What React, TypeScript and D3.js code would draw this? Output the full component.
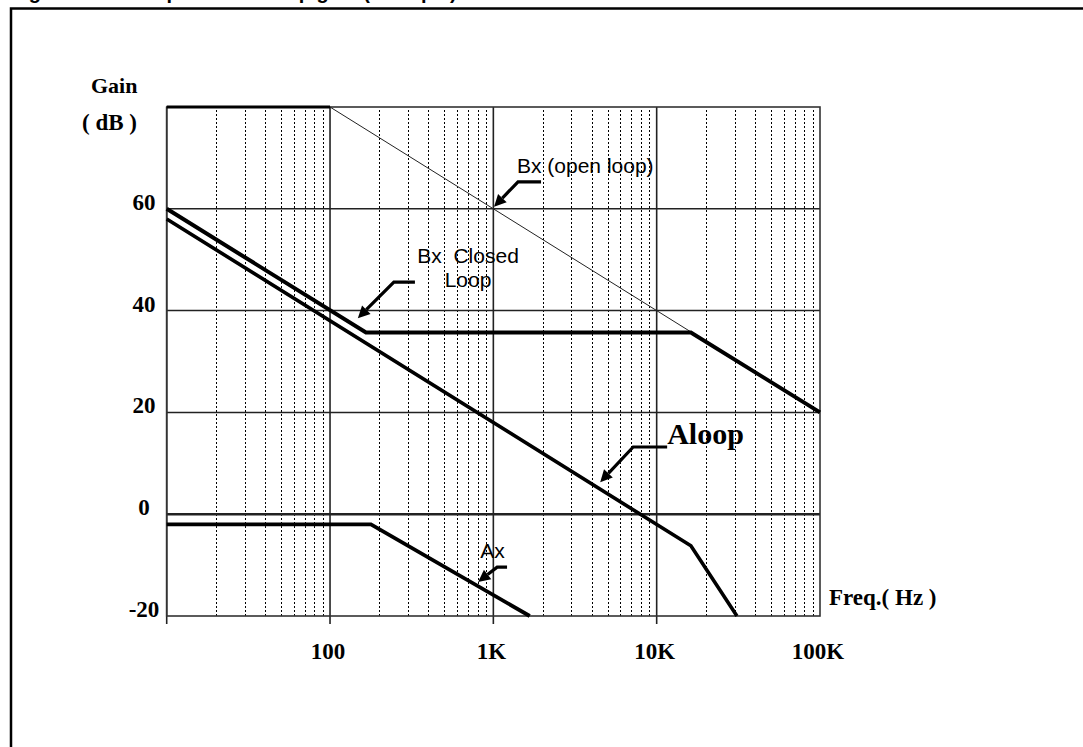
import React from 'react';
import * as d3 from 'd3';

const W = 1083;
const H = 747;

// ---- axis ticks ----
const xTickValues = [100, 1000, 10000, 100000];
const xTickLabels = ['100', '1K', '10K', '100K'];
const yTickValues = [60, 40, 20, 0, -20];
const yTickLabels = ['60', '40', '20', '0', '-20'];
const hGridValues = [60, 40, 20, 0];
const decades = [10, 100, 1000, 10000];
const minorMultipliers = [2, 3, 4, 5, 6, 7, 8, 9];

// ---- series (frequency in Hz, gain in dB) ----
const openLoopFlatFreq = [10, 100];
const openLoopFlatDb = [80, 80];
const openLoopSlopeFreq = [100, 100000];
const openLoopSlopeDb = [80, 20];
const bxClosedFreq = [10, 166, 16200, 100000];
const bxClosedDb = [60, 35.7, 35.7, 20];
const aloopFreq = [10, 16200, 31000];
const aloopDb = [58, -6.2, -20];
const axFreq = [10, 178, 1670];
const axDb = [-2, -2, -20];

// ---- annotations (anchored in data space) ----
const annotationText = [['Bx (open loop)'], ['Bx  Closed', 'Loop'], ['Aloop'], ['Ax']];
const annotationTextFreq = [1396, 700, 11590, 830];
const annotationTextDb = [67.0, 49.3, 13.8, -8.6];
const annotationArrowFreq = [
  [1959, 1416, 1010],
  [331, 246, 148],
  [11590, 7180, 4510],
  [1213, 1055, 807],
];
const annotationArrowDb = [
  [65.3, 65.3, 60.4],
  [45.6, 45.6, 38.5],
  [13.2, 13.2, 6.3],
  [-10.4, -10.4, -13.3],
];

const x = d3.scaleLog().domain([10, 100000]).range([166.7, 820]);
const y = d3.scaleLinear().domain([-20, 80]).range([616, 107]);

const line = d3
  .line<[number, number]>()
  .x((d) => x(d[0]))
  .y((d) => y(d[1]));

const zip = (f: number[], g: number[]) => f.map((v, i) => [v, g[i]] as [number, number]);
const snap = (v: number) => Math.round(v) + 0.5;

const SERIF = "'Liberation Serif', 'Times New Roman', serif";
const SANS = "'Liberation Sans', Arial, sans-serif";

function Arrow({ pts }: { pts: [number, number][] }) {
  const p = pts.map(([f, d]) => [x(f), y(d)]);
  const tip = p[p.length - 1];
  const prev = p[p.length - 2];
  const dx = tip[0] - prev[0];
  const dy = tip[1] - prev[1];
  const len = Math.hypot(dx, dy);
  const ux = dx / len;
  const uy = dy / len;
  const hl = 12;
  const hw = 6;
  const base = [tip[0] - ux * hl, tip[1] - uy * hl];
  const shaft = [...p.slice(0, -1), base];
  const head = [
    tip,
    [base[0] - uy * hw, base[1] + ux * hw],
    [base[0] + uy * hw, base[1] - ux * hw],
  ];
  return (
    <g>
      <path
        d={d3.line()(shaft as [number, number][]) || ''}
        fill="none"
        stroke="#000"
        strokeWidth={3.2}
        strokeLinejoin="miter"
      />
      <polygon points={head.map((q) => q.join(',')).join(' ')} fill="#000" />
    </g>
  );
}

export default function App() {
  const minorFreqs: number[] = [];
  decades.forEach((d) => minorMultipliers.forEach((m) => minorFreqs.push(d * m)));
  const [x0, x1] = x.range();
  const yTop = y(80);
  const yBot = y(-20);

  return (
    <svg
      width={W}
      height={H}
      viewBox={`0 0 ${W} ${H}`}
      style={{ position: 'absolute', left: 0, top: 0, background: '#fff' }}
    >
      <rect x={0} y={0} width={W} height={H} fill="#fff" />
      {/* page frame and clipped caption */}
      <text x={11} y={-1.5} fontFamily={SANS} fontWeight="bold" fontSize={20} fill="#000">
        Figure 13. Bode plot of the loop gain (example)
      </text>
      <rect x={11} y={8.5} width={W + 20} height={H + 20} fill="none" stroke="#000" strokeWidth={2.5} />

      {/* minor dotted verticals */}
      <g shapeRendering="crispEdges">
        {minorFreqs.map((f) => (
          <line
            key={'m' + f}
            x1={snap(x(f))}
            x2={snap(x(f))}
            y1={yTop + 3}
            y2={yBot}
            stroke="#000"
            strokeWidth={1.5}
            strokeDasharray="2 2"
          />
        ))}
      </g>

      {/* horizontal grid */}
      {hGridValues.map((v) => (
        <line
          key={'h' + v}
          x1={x0}
          x2={x1}
          y1={y(v)}
          y2={y(v)}
          stroke="#222"
          strokeWidth={v === 0 ? 2.6 : 1.5}
        />
      ))}

      {/* major verticals (with ticks below) */}
      {xTickValues.slice(0, 3).map((f) => (
        <line key={'v' + f} x1={x(f)} x2={x(f)} y1={yTop} y2={yBot + 8} stroke="#222" strokeWidth={1.6} />
      ))}
      <line x1={x0} x2={x0} y1={yTop} y2={yBot + 8} stroke="#222" strokeWidth={1.6} />

      {/* plot frame */}
      <rect x={x0} y={yTop} width={x1 - x0} height={yBot - yTop} fill="none" stroke="#333" strokeWidth={1.6} />

      {/* curves */}
      <path d={line(zip(openLoopSlopeFreq, openLoopSlopeDb)) || ''} fill="none" stroke="#222" strokeWidth={1} />
      <path d={line(zip(openLoopFlatFreq, openLoopFlatDb)) || ''} fill="none" stroke="#000" strokeWidth={3.2} />
      <path d={line(zip(bxClosedFreq, bxClosedDb)) || ''} fill="none" stroke="#000" strokeWidth={4} />
      <path d={line(zip(aloopFreq, aloopDb)) || ''} fill="none" stroke="#000" strokeWidth={3.6} />
      <path d={line(zip(axFreq, axDb)) || ''} fill="none" stroke="#000" strokeWidth={3.8} />

      {/* y tick labels */}
      {yTickValues.map((v, i) => (
        <text
          key={'yl' + v}
          x={144}
          y={y(v) + 1}
          textAnchor="middle"
          fontFamily={SERIF}
          fontWeight="bold"
          fontSize={23}
          fill="#000"
        >
          {yTickLabels[i]}
        </text>
      ))}

      {/* x tick labels */}
      {xTickValues.map((f, i) => (
        <text
          key={'xl' + f}
          x={x(f) - 2}
          y={659}
          textAnchor="middle"
          fontFamily={SERIF}
          fontWeight="bold"
          fontSize={23}
          fill="#000"
        >
          {xTickLabels[i]}
        </text>
      ))}

      {/* axis titles */}
      <text x={91} y={93} fontFamily={SERIF} fontWeight="bold" fontSize={22} fill="#000">
        Gain
      </text>
      <text x={82} y={130} fontFamily={SERIF} fontWeight="bold" fontSize={23} fill="#000" xmlSpace="preserve">
        ( dB )
      </text>
      <text x={829} y={605} fontFamily={SERIF} fontWeight="bold" fontSize={23} fill="#000" xmlSpace="preserve">
        Freq.( Hz )
      </text>

      {/* annotations */}
      {annotationText.map((lines, i) => {
        const isAloop = lines[0] === 'Aloop';
        const multi = lines.length > 1;
        const tx = x(annotationTextFreq[i]);
        const ty = y(annotationTextDb[i]);
        return (
          <g key={'an' + i}>
            {lines.map((t, j) => (
              <text
                key={j}
                x={tx}
                y={ty + j * 23.5}
                textAnchor={multi ? 'middle' : 'start'}
                fontFamily={isAloop ? SERIF : SANS}
                fontWeight={isAloop ? 'bold' : 'normal'}
                fontSize={isAloop ? 30 : 21}
                fill="#000"
                xmlSpace="preserve"
              >
                {t}
              </text>
            ))}
            <Arrow pts={zip(annotationArrowFreq[i], annotationArrowDb[i])} />
          </g>
        );
      })}
    </svg>
  );
}
